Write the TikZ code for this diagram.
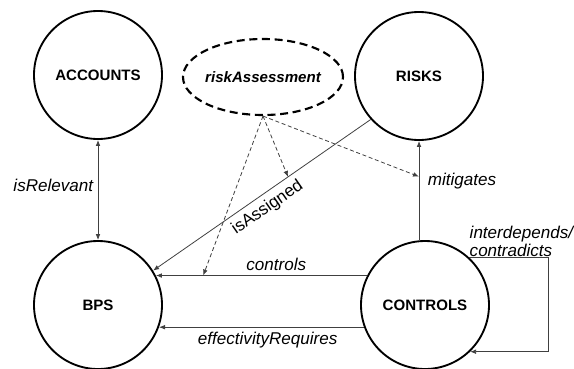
\documentclass[tikz,border=0pt]{standalone}
\usepackage{fontspec}
\setmainfont{Liberation Sans}
\usetikzlibrary{shapes.geometric,arrows.meta}

\begin{document}
\begin{tikzpicture}[x=0.75pt, y=-0.75pt, >={Latex[length=4.5pt,width=3.5pt]},
  concept/.style={circle,draw,line width=1.4pt,minimum size=96pt,inner sep=0pt,font=\fontsize{11.3}{13}\selectfont\bfseries},
  rel/.style={black!75,line width=0.6pt},
  reif/.style={black!75,line width=0.6pt,dash pattern=on 3pt off 2pt},
  lbl/.style={black,font=\fontsize{12.8}{13.5}\selectfont\itshape}]
          \useasboundingbox (0,0) rectangle (574,368);
          \node[concept] (acc) at (98,75) {ACCOUNTS};
          \node[concept] (risks) at (419,76) {RISKS};
          \node[concept] (bps) at (98,305) {BPS};
          \node[concept] (ctrl) at (425,305) {CONTROLS};
          \node[ellipse,draw,line width=1.6pt,dash pattern=on 6pt off 3.5pt,inner xsep=-1.5pt,minimum width=120pt,minimum height=57pt,font=\fontsize{11.3}{13}\selectfont\bfseries\itshape] (ra) at (263,77) {riskAssessment};
          \draw [rel,<->] (acc) -- node[lbl,left,pos=0.45] {isRelevant} (bps);
          \draw [rel,->] (risks.south |- ctrl.north) -- coordinate[pos=0.64] (mit) node[lbl,right=3pt,pos=0.6] {mitigates} (risks.south);
          \draw [rel,->] (risks.222) -- coordinate[pos=0.38] (ia) node[pos=0.51,rotate=34.8,anchor=north,inner sep=4pt,text=black,font=\fontsize{12.8}{14}\selectfont] {isAssigned} (bps.32);
          \draw [rel,->] (ctrl.153) -- coordinate[pos=0.776] (ctl) node[lbl,above,pos=0.43] {controls} (bps.27);
          \draw [rel,->] (ctrl.200) -- node[lbl,below,pos=0.47] {effectivityRequires} (bps.-20);
          \draw [rel,->] (ctrl.47) -- ++(79,0) |- (ctrl.-46);
          \node[lbl,align=left,anchor=south west] (loop) at (465,261) {interdepends/\\contradicts};
          \draw [reif,->] (ra.south) -- (ctl);
          \draw [reif,->] (ra.south) -- (ia);
          \draw [reif,->] (ra.south) -- (mit);
        \end{tikzpicture}
\end{document}
